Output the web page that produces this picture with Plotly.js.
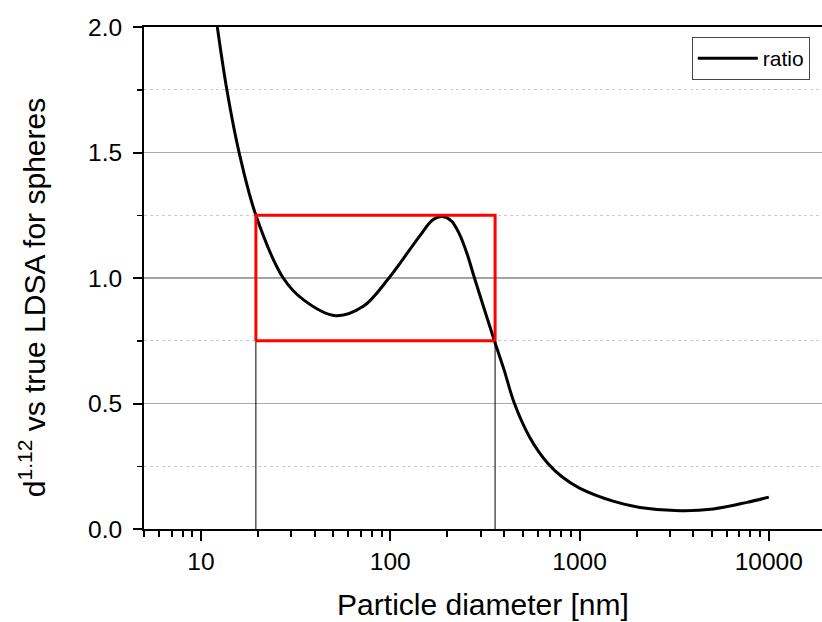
<!DOCTYPE html>
<html>
<head>
<meta charset="utf-8">
<script src="https://cdn.plot.ly/plotly-3.0.1.min.js"></script>
<style>html,body{margin:0;padding:0;background:#fff;}</style>
</head>
<body>
<div id="chart" style="width:822px;height:622px;"></div>
<script>
// Particle diameter [nm] and ratio values
var diameter = [12.2, 13.7, 15.9, 19.5, 27.2, 34.7, 51.5, 72, 98.4, 142.6, 168, 188, 210, 232, 255, 278.5, 355, 399, 453, 547, 681, 811, 1000, 1518, 2084, 3400, 5100, 7660, 10000];
var ratio    = [2.0, 1.75, 1.5, 1.25, 1.0, 0.914, 0.85, 0.887, 1.0, 1.166, 1.232, 1.245, 1.228, 1.175, 1.095, 1.0, 0.75, 0.635, 0.5, 0.364, 0.261, 0.207, 0.163, 0.110, 0.086, 0.073, 0.080, 0.106, 0.127];

// highlighted window
var boxX = [19.5, 358];
var boxY = [0.75, 1.25];
var refLine = 1.0;

var xTickVals = [10, 100, 1000, 10000];
var xTickText = ['10', '100', '1000', '10000'];
var xMinorVals = [5,6,7,8,9,20,30,40,50,60,70,80,90,200,300,400,500,600,700,800,900,2000,3000,4000,5000,6000,7000,8000,9000];
var yTickVals = [0.0, 0.5, 1.0, 1.5, 2.0];
var yTickText = ['0.0', '0.5', '1.0', '1.5', '2.0'];

var FONT = 'Liberation Sans, Arial, sans-serif';

var traces = [
  {
    x: diameter, y: ratio, type: 'scatter', mode: 'lines', name: 'ratio',
    line: {color: '#000', width: 3, shape: 'spline', smoothing: 1}
  },
  {
    x: [boxX[0], boxX[1], boxX[1], boxX[0], boxX[0]],
    y: [boxY[0], boxY[0], boxY[1], boxY[1], boxY[0]],
    type: 'scatter', mode: 'lines', showlegend: false, hoverinfo: 'skip',
    line: {color: '#ff0000', width: 3}
  },
  {
    x: [boxX[0], boxX[0], null, boxX[1], boxX[1]],
    y: [0, boxY[0], null, 0, boxY[0]],
    type: 'scatter', mode: 'lines', showlegend: false, hoverinfo: 'skip',
    line: {color: '#000', width: 1}
  }
];

var layout = {
  width: 822, height: 622,
  margin: {l: 144, r: 0, t: 27, b: 93},
  paper_bgcolor: '#fff', plot_bgcolor: '#fff',
  font: {family: FONT, color: '#000'},
  showlegend: true,
  legend: {
    x: 0.982, xanchor: 'right', y: 0.98, yanchor: 'top',
    bgcolor: '#fff', bordercolor: '#444', borderwidth: 1,
    font: {family: FONT, size: 21, color: '#000'},
    itemwidth: 60, tracegroupgap: 0
  },
  xaxis: {
    type: 'log',
    range: [Math.log10(5), 4.281],
    tickmode: 'array', tickvals: xTickVals, ticktext: xTickText,
    ticks: 'outside', ticklen: 10, tickwidth: 2, tickcolor: '#000',
    showline: true, linecolor: '#000', linewidth: 2, mirror: true,
    showgrid: false, zeroline: false,
    tickfont: {family: FONT, size: 24.5, color: '#000'},
    minor: {tickmode: 'array', tickvals: xMinorVals, ticks: 'outside', ticklen: 6, tickwidth: 2, tickcolor: '#000', showgrid: false},
    title: {text: 'Particle diameter [nm]', font: {family: FONT, size: 30, color: '#000'}, standoff: 20}
  },
  yaxis: {
    range: [0, 2],
    tickmode: 'array', tickvals: yTickVals, ticktext: yTickText,
    ticks: 'outside', ticklen: 9, tickwidth: 2, tickcolor: '#000',
    ticklabelstandoff: 6,
    showline: true, linecolor: '#000', linewidth: 2, mirror: false,
    showgrid: true, gridcolor: '#a8a8a8', gridwidth: 1, zeroline: false,
    tickfont: {family: FONT, size: 24.5, color: '#000'},
    minor: {dtick: 0.25, ticks: 'outside', ticklen: 5, tickwidth: 1.5, tickcolor: '#000', showgrid: true, gridcolor: '#cccccc', griddash: 'dot', gridwidth: 1}
  },
  annotations: [
    {
      text: 'd<sup>1.12</sup> vs true LDSA for spheres',
      xref: 'paper', yref: 'paper', x: -0.165, y: 0.46,
      xanchor: 'center', yanchor: 'middle', textangle: -90, showarrow: false,
      font: {family: FONT, size: 30, color: '#000'}
    }
  ],
  shapes: [
    {type: 'line', xref: 'paper', yref: 'y', x0: 0, x1: 1, y0: refLine, y1: refLine, line: {color: '#404040', width: 1}, layer: 'below'}
  ]
};

Plotly.newPlot('chart', traces, layout, {displayModeBar: false, staticPlot: true});
</script>
</body>
</html>
